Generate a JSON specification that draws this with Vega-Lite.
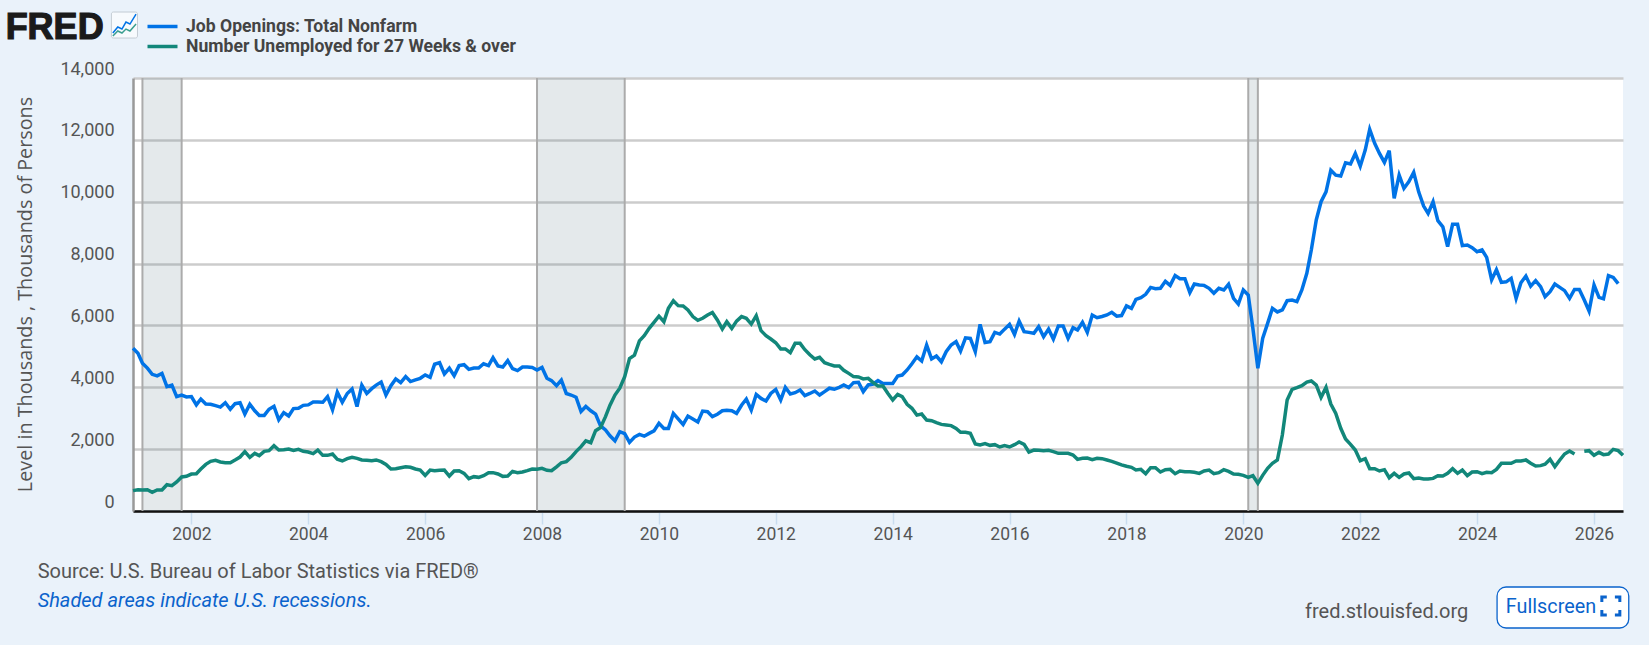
{
  "$schema": "https://vega.github.io/schema/vega-lite/v6.json",
  "background": "#EAF2FA",
  "autosize": {"type": "none"},
  "padding": {"left": 133, "top": 78, "right": 26, "bottom": 134},
  "width": 1490,
  "height": 433,
  "view": {"fill": "#FFFFFF", "stroke": null},
  "datasets": {
    "recessions": [
      {"start": "2001-03-01", "end": "2001-11-01"},
      {"start": "2007-12-01", "end": "2009-06-01"},
      {"start": "2020-02-01", "end": "2020-04-01"}
    ],
    "icon": [
      {"date": "2000-08-28", "openings": 15454, "longterm": 15357},
      {"date": "2000-09-28", "openings": 15648, "longterm": 15519},
      {"date": "2000-10-24", "openings": 15583, "longterm": 15454},
      {"date": "2000-11-18", "openings": 15810, "longterm": 15583},
      {"date": "2000-12-13", "openings": 15745, "longterm": 15519},
      {"date": "2001-01-20", "openings": 16068, "longterm": 15745}
    ],
    "monthly": [
      {"date":"2001-01-01","openings":5260,"longterm":658},{"date":"2001-02-01","openings":5100,"longterm":690},{"date":"2001-03-01","openings":4780,"longterm":680},{"date":"2001-04-01","openings":4620,"longterm":690},{"date":"2001-05-01","openings":4420,"longterm":605},{"date":"2001-06-01","openings":4370,"longterm":680},{"date":"2001-07-01","openings":4450,"longterm":680},{"date":"2001-08-01","openings":4020,"longterm":850},{"date":"2001-09-01","openings":4070,"longterm":820},{"date":"2001-10-01","openings":3700,"longterm":937},{"date":"2001-11-01","openings":3750,"longterm":1100},{"date":"2001-12-01","openings":3690,"longterm":1120},
      {"date":"2002-01-01","openings":3700,"longterm":1195},{"date":"2002-02-01","openings":3430,"longterm":1205},{"date":"2002-03-01","openings":3620,"longterm":1358},{"date":"2002-04-01","openings":3460,"longterm":1508},{"date":"2002-05-01","openings":3450,"longterm":1605},{"date":"2002-06-01","openings":3405,"longterm":1637},{"date":"2002-07-01","openings":3360,"longterm":1585},{"date":"2002-08-01","openings":3500,"longterm":1563},{"date":"2002-09-01","openings":3290,"longterm":1563},{"date":"2002-10-01","openings":3470,"longterm":1650},{"date":"2002-11-01","openings":3500,"longterm":1745},{"date":"2002-12-01","openings":3135,"longterm":1918},
      {"date":"2003-01-01","openings":3450,"longterm":1735},{"date":"2003-02-01","openings":3240,"longterm":1865},{"date":"2003-03-01","openings":3090,"longterm":1790},{"date":"2003-04-01","openings":3090,"longterm":1930},{"date":"2003-05-01","openings":3290,"longterm":1950},{"date":"2003-06-01","openings":3385,"longterm":2112},{"date":"2003-07-01","openings":2950,"longterm":1972},{"date":"2003-08-01","openings":3180,"longterm":1982},{"date":"2003-09-01","openings":3070,"longterm":2005},{"date":"2003-10-01","openings":3310,"longterm":1960},{"date":"2003-11-01","openings":3320,"longterm":1993},{"date":"2003-12-01","openings":3415,"longterm":1930},
      {"date":"2004-01-01","openings":3430,"longterm":1908},{"date":"2004-02-01","openings":3525,"longterm":1855},{"date":"2004-03-01","openings":3525,"longterm":1972},{"date":"2004-04-01","openings":3515,"longterm":1800},{"date":"2004-05-01","openings":3700,"longterm":1800},{"date":"2004-06-01","openings":3270,"longterm":1843},{"date":"2004-07-01","openings":3840,"longterm":1670},{"date":"2004-08-01","openings":3515,"longterm":1617},{"date":"2004-09-01","openings":3800,"longterm":1692},{"date":"2004-10-01","openings":3945,"longterm":1735},{"date":"2004-11-01","openings":3375,"longterm":1703},{"date":"2004-12-01","openings":4070,"longterm":1650},
      {"date":"2005-01-01","openings":3800,"longterm":1638},{"date":"2005-02-01","openings":3955,"longterm":1628},{"date":"2005-03-01","openings":4070,"longterm":1650},{"date":"2005-04-01","openings":4170,"longterm":1595},{"date":"2005-05-01","openings":3750,"longterm":1508},{"date":"2005-06-01","openings":4050,"longterm":1358},{"date":"2005-07-01","openings":4270,"longterm":1368},{"date":"2005-08-01","openings":4150,"longterm":1400},{"date":"2005-09-01","openings":4345,"longterm":1433},{"date":"2005-10-01","openings":4185,"longterm":1412},{"date":"2005-11-01","openings":4240,"longterm":1358},{"date":"2005-12-01","openings":4290,"longterm":1325},
      {"date":"2006-01-01","openings":4400,"longterm":1153},{"date":"2006-02-01","openings":4320,"longterm":1325},{"date":"2006-03-01","openings":4745,"longterm":1303},{"date":"2006-04-01","openings":4795,"longterm":1314},{"date":"2006-05-01","openings":4430,"longterm":1325},{"date":"2006-06-01","openings":4615,"longterm":1131},{"date":"2006-07-01","openings":4375,"longterm":1293},{"date":"2006-08-01","openings":4700,"longterm":1303},{"date":"2006-09-01","openings":4730,"longterm":1217},{"date":"2006-10-01","openings":4580,"longterm":1045},{"date":"2006-11-01","openings":4620,"longterm":1110},{"date":"2006-12-01","openings":4620,"longterm":1088},
      {"date":"2007-01-01","openings":4760,"longterm":1142},{"date":"2007-02-01","openings":4700,"longterm":1239},{"date":"2007-03-01","openings":4955,"longterm":1239},{"date":"2007-04-01","openings":4690,"longterm":1196},{"date":"2007-05-01","openings":4655,"longterm":1120},{"date":"2007-06-01","openings":4860,"longterm":1131},{"date":"2007-07-01","openings":4605,"longterm":1282},{"date":"2007-08-01","openings":4540,"longterm":1239},{"date":"2007-09-01","openings":4655,"longterm":1260},{"date":"2007-10-01","openings":4655,"longterm":1303},{"date":"2007-11-01","openings":4640,"longterm":1358},{"date":"2007-12-01","openings":4560,"longterm":1347},
      {"date":"2008-01-01","openings":4640,"longterm":1380},{"date":"2008-02-01","openings":4290,"longterm":1314},{"date":"2008-03-01","openings":4215,"longterm":1303},{"date":"2008-04-01","openings":4050,"longterm":1430},{"date":"2008-05-01","openings":4230,"longterm":1560},{"date":"2008-06-01","openings":3800,"longterm":1595},{"date":"2008-07-01","openings":3750,"longterm":1735},{"date":"2008-08-01","openings":3680,"longterm":1920},{"date":"2008-09-01","openings":3215,"longterm":2080},{"date":"2008-10-01","openings":3380,"longterm":2270},{"date":"2008-11-01","openings":3240,"longterm":2210},{"date":"2008-12-01","openings":3135,"longterm":2597},
      {"date":"2009-01-01","openings":2750,"longterm":2700},{"date":"2009-02-01","openings":2620,"longterm":3050},{"date":"2009-03-01","openings":2430,"longterm":3420},{"date":"2009-04-01","openings":2270,"longterm":3750},{"date":"2009-05-01","openings":2565,"longterm":3970},{"date":"2009-06-01","openings":2500,"longterm":4345},{"date":"2009-07-01","openings":2220,"longterm":4930},{"date":"2009-08-01","openings":2390,"longterm":5040},{"date":"2009-09-01","openings":2478,"longterm":5500},{"date":"2009-10-01","openings":2420,"longterm":5670},{"date":"2009-11-01","openings":2510,"longterm":5905},{"date":"2009-12-01","openings":2590,"longterm":6100},
      {"date":"2010-01-01","openings":2835,"longterm":6300},{"date":"2010-02-01","openings":2670,"longterm":6120},{"date":"2010-03-01","openings":2670,"longterm":6555},{"date":"2010-04-01","openings":3157,"longterm":6800},{"date":"2010-05-01","openings":2980,"longterm":6640},{"date":"2010-06-01","openings":2800,"longterm":6630},{"date":"2010-07-01","openings":3070,"longterm":6500},{"date":"2010-08-01","openings":2975,"longterm":6285},{"date":"2010-09-01","openings":2880,"longterm":6165},{"date":"2010-10-01","openings":3230,"longterm":6230},{"date":"2010-11-01","openings":3210,"longterm":6335},{"date":"2010-12-01","openings":3050,"longterm":6420},
      {"date":"2011-01-01","openings":3130,"longterm":6175},{"date":"2011-02-01","openings":3240,"longterm":5885},{"date":"2011-03-01","openings":3260,"longterm":6120},{"date":"2011-04-01","openings":3240,"longterm":5905},{"date":"2011-05-01","openings":3157,"longterm":6140},{"date":"2011-06-01","openings":3420,"longterm":6285},{"date":"2011-07-01","openings":3620,"longterm":6230},{"date":"2011-08-01","openings":3265,"longterm":6045},{"date":"2011-09-01","openings":3770,"longterm":6315},{"date":"2011-10-01","openings":3640,"longterm":5830},{"date":"2011-11-01","openings":3555,"longterm":5670},{"date":"2011-12-01","openings":3800,"longterm":5560},
      {"date":"2012-01-01","openings":3930,"longterm":5440},{"date":"2012-02-01","openings":3590,"longterm":5240},{"date":"2012-03-01","openings":3998,"longterm":5240},{"date":"2012-04-01","openings":3785,"longterm":5120},{"date":"2012-05-01","openings":3825,"longterm":5420},{"date":"2012-06-01","openings":3910,"longterm":5420},{"date":"2012-07-01","openings":3730,"longterm":5215},{"date":"2012-08-01","openings":3800,"longterm":5050},{"date":"2012-09-01","openings":3880,"longterm":4915},{"date":"2012-10-01","openings":3750,"longterm":4970},{"date":"2012-11-01","openings":3860,"longterm":4795},{"date":"2012-12-01","openings":3970,"longterm":4740},
      {"date":"2013-01-01","openings":3935,"longterm":4690},{"date":"2013-02-01","openings":4000,"longterm":4690},{"date":"2013-03-01","openings":4075,"longterm":4550},{"date":"2013-04-01","openings":3990,"longterm":4450},{"date":"2013-05-01","openings":4150,"longterm":4345},{"date":"2013-06-01","openings":4160,"longterm":4335},{"date":"2013-07-01","openings":3860,"longterm":4270},{"date":"2013-08-01","openings":4075,"longterm":4290},{"date":"2013-09-01","openings":4105,"longterm":4150},{"date":"2013-10-01","openings":4215,"longterm":4040},{"date":"2013-11-01","openings":4125,"longterm":4040},{"date":"2013-12-01","openings":4125,"longterm":3805},
      {"date":"2014-01-01","openings":4125,"longterm":3590},{"date":"2014-02-01","openings":4365,"longterm":3770},{"date":"2014-03-01","openings":4395,"longterm":3700},{"date":"2014-04-01","openings":4560,"longterm":3450},{"date":"2014-05-01","openings":4760,"longterm":3320},{"date":"2014-06-01","openings":4985,"longterm":3100},{"date":"2014-07-01","openings":4850,"longterm":3135},{"date":"2014-08-01","openings":5365,"longterm":2940},{"date":"2014-09-01","openings":4915,"longterm":2920},{"date":"2014-10-01","openings":5010,"longterm":2855},{"date":"2014-11-01","openings":4825,"longterm":2800},{"date":"2014-12-01","openings":5150,"longterm":2780},
      {"date":"2015-01-01","openings":5365,"longterm":2760},{"date":"2015-02-01","openings":5475,"longterm":2672},{"date":"2015-03-01","openings":5170,"longterm":2543},{"date":"2015-04-01","openings":5600,"longterm":2543},{"date":"2015-05-01","openings":5580,"longterm":2510},{"date":"2015-06-01","openings":5150,"longterm":2166},{"date":"2015-07-01","openings":6035,"longterm":2134},{"date":"2015-08-01","openings":5450,"longterm":2177},{"date":"2015-09-01","openings":5475,"longterm":2123},{"date":"2015-10-01","openings":5775,"longterm":2145},{"date":"2015-11-01","openings":5720,"longterm":2069},{"date":"2015-12-01","openings":5880,"longterm":2112},
      {"date":"2016-01-01","openings":6035,"longterm":2069},{"date":"2016-02-01","openings":5710,"longterm":2145},{"date":"2016-03-01","openings":6140,"longterm":2230},{"date":"2016-04-01","openings":5800,"longterm":2155},{"date":"2016-05-01","openings":5775,"longterm":1907},{"date":"2016-06-01","openings":5745,"longterm":1972},{"date":"2016-07-01","openings":5960,"longterm":1961},{"date":"2016-08-01","openings":5635,"longterm":1950},{"date":"2016-09-01","openings":5880,"longterm":1961},{"date":"2016-10-01","openings":5560,"longterm":1918},{"date":"2016-11-01","openings":5980,"longterm":1864},{"date":"2016-12-01","openings":5980,"longterm":1864},
      {"date":"2017-01-01","openings":5580,"longterm":1864},{"date":"2017-02-01","openings":5925,"longterm":1810},{"date":"2017-03-01","openings":5850,"longterm":1670},{"date":"2017-04-01","openings":6100,"longterm":1703},{"date":"2017-05-01","openings":5775,"longterm":1713},{"date":"2017-06-01","openings":6335,"longterm":1660},{"date":"2017-07-01","openings":6250,"longterm":1703},{"date":"2017-08-01","openings":6290,"longterm":1692},{"date":"2017-09-01","openings":6340,"longterm":1650},{"date":"2017-10-01","openings":6425,"longterm":1605},{"date":"2017-11-01","openings":6300,"longterm":1550},{"date":"2017-12-01","openings":6320,"longterm":1490},
      {"date":"2018-01-01","openings":6630,"longterm":1445},{"date":"2018-02-01","openings":6550,"longterm":1412},{"date":"2018-03-01","openings":6840,"longterm":1325},{"date":"2018-04-01","openings":6900,"longterm":1347},{"date":"2018-05-01","openings":7005,"longterm":1206},{"date":"2018-06-01","openings":7230,"longterm":1401},{"date":"2018-07-01","openings":7190,"longterm":1401},{"date":"2018-08-01","openings":7200,"longterm":1260},{"date":"2018-09-01","openings":7425,"longterm":1336},{"date":"2018-10-01","openings":7295,"longterm":1347},{"date":"2018-11-01","openings":7615,"longterm":1206},{"date":"2018-12-01","openings":7510,"longterm":1293},
      {"date":"2019-01-01","openings":7510,"longterm":1272},{"date":"2019-02-01","openings":7060,"longterm":1272},{"date":"2019-03-01","openings":7340,"longterm":1250},{"date":"2019-04-01","openings":7305,"longterm":1217},{"date":"2019-05-01","openings":7295,"longterm":1293},{"date":"2019-06-01","openings":7200,"longterm":1325},{"date":"2019-07-01","openings":7040,"longterm":1206},{"date":"2019-08-01","openings":7200,"longterm":1239},{"date":"2019-09-01","openings":7145,"longterm":1336},{"date":"2019-10-01","openings":7330,"longterm":1282},{"date":"2019-11-01","openings":6875,"longterm":1196},{"date":"2019-12-01","openings":6690,"longterm":1185},
      {"date":"2020-01-01","openings":7145,"longterm":1153},{"date":"2020-02-01","openings":6980,"longterm":1088},{"date":"2020-03-01","openings":5900,"longterm":1142},{"date":"2020-04-01","openings":4613,"longterm":895},{"date":"2020-05-01","openings":5580,"longterm":1153},{"date":"2020-06-01","openings":6067,"longterm":1380},{"date":"2020-07-01","openings":6553,"longterm":1542},{"date":"2020-08-01","openings":6435,"longterm":1650},{"date":"2020-09-01","openings":6500,"longterm":2457},{"date":"2020-10-01","openings":6800,"longterm":3589},{"date":"2020-11-01","openings":6820,"longterm":3933},{"date":"2020-12-01","openings":6770,"longterm":3987},
      {"date":"2021-01-01","openings":7145,"longterm":4051},{"date":"2021-02-01","openings":7685,"longterm":4170},{"date":"2021-03-01","openings":8440,"longterm":4203},{"date":"2021-04-01","openings":9410,"longterm":4073},{"date":"2021-05-01","openings":10000,"longterm":3675},{"date":"2021-06-01","openings":10320,"longterm":3997},{"date":"2021-07-01","openings":11020,"longterm":3460},{"date":"2021-08-01","openings":10860,"longterm":3157},{"date":"2021-09-01","openings":10830,"longterm":2673},{"date":"2021-10-01","openings":11260,"longterm":2327},{"date":"2021-11-01","openings":11220,"longterm":2155},{"date":"2021-12-01","openings":11560,"longterm":1972},
      {"date":"2022-01-01","openings":11150,"longterm":1628},{"date":"2022-02-01","openings":11670,"longterm":1692},{"date":"2022-03-01","openings":12340,"longterm":1369},{"date":"2022-04-01","openings":11890,"longterm":1369},{"date":"2022-05-01","openings":11560,"longterm":1293},{"date":"2022-06-01","openings":11270,"longterm":1336},{"date":"2022-07-01","openings":11650,"longterm":1077},{"date":"2022-08-01","openings":10110,"longterm":1217},{"date":"2022-09-01","openings":10860,"longterm":1088},{"date":"2022-10-01","openings":10430,"longterm":1196},{"date":"2022-11-01","openings":10650,"longterm":1228},{"date":"2022-12-01","openings":10950,"longterm":1045},
      {"date":"2023-01-01","openings":10320,"longterm":1066},{"date":"2023-02-01","openings":9860,"longterm":1034},{"date":"2023-03-01","openings":9620,"longterm":1034},{"date":"2023-04-01","openings":10000,"longterm":1055},{"date":"2023-05-01","openings":9385,"longterm":1142},{"date":"2023-06-01","openings":9190,"longterm":1131},{"date":"2023-07-01","openings":8545,"longterm":1217},{"date":"2023-08-01","openings":9270,"longterm":1369},{"date":"2023-09-01","openings":9270,"longterm":1217},{"date":"2023-10-01","openings":8580,"longterm":1325},{"date":"2023-11-01","openings":8600,"longterm":1142},{"date":"2023-12-01","openings":8515,"longterm":1260},
      {"date":"2024-01-01","openings":8385,"longterm":1272},{"date":"2024-02-01","openings":8440,"longterm":1206},{"date":"2024-03-01","openings":8200,"longterm":1250},{"date":"2024-04-01","openings":7470,"longterm":1239},{"date":"2024-05-01","openings":7800,"longterm":1347},{"date":"2024-06-01","openings":7390,"longterm":1542},{"date":"2024-07-01","openings":7410,"longterm":1542},{"date":"2024-08-01","openings":7520,"longterm":1542},{"date":"2024-09-01","openings":6875,"longterm":1617},{"date":"2024-10-01","openings":7380,"longterm":1617},{"date":"2024-11-01","openings":7595,"longterm":1650},{"date":"2024-12-01","openings":7270,"longterm":1542},
      {"date":"2025-01-01","openings":7450,"longterm":1456},{"date":"2025-02-01","openings":7255,"longterm":1467},{"date":"2025-03-01","openings":6930,"longterm":1510},{"date":"2025-04-01","openings":7090,"longterm":1670},{"date":"2025-05-01","openings":7340,"longterm":1433},{"date":"2025-06-01","openings":7230,"longterm":1650},{"date":"2025-07-01","openings":7125,"longterm":1843},{"date":"2025-08-01","openings":6875,"longterm":1940},{"date":"2025-09-01","openings":7165,"longterm":1843},{"date":"2025-10-01","openings":7165,"longterm":null},{"date":"2025-11-01","openings":6820,"longterm":1929},{"date":"2025-12-01","openings":6465,"longterm":1951},
      {"date":"2026-01-01","openings":7305,"longterm":1800},{"date":"2026-02-01","openings":6905,"longterm":1897},{"date":"2026-03-01","openings":6860,"longterm":1822},{"date":"2026-04-01","openings":7610,"longterm":1843},{"date":"2026-05-01","openings":7550,"longterm":1994},{"date":"2026-06-01","openings":7350,"longterm":1951},{"date":"2026-07-01","openings":null,"longterm":1800}
    ]
  },
  "data": {"name": "monthly"},
  "encoding": {
    "x": {
      "field": "date",
      "type": "temporal",
      "scale": {"domain": ["2001-01-01", "2026-07-01"]},
      "axis": {
        "title": null,
        "format": "%Y",
        "tickCount": {"interval": "year", "step": 2},
        "grid": false,
        "domainColor": "#111111",
        "domainWidth": 2.5,
        "tickColor": "#C9DCEF",
        "tickWidth": 1.5,
        "tickSize": 13,
        "labelFont": "Roboto",
        "labelFontSize": 17.5,
        "labelColor": "#555555",
        "labelPadding": 1,
        "labelFlush": false
      }
    }
  },
  "layer": [
    {
      "data": {"name": "recessions"},
      "mark": {"type": "rect", "fill": "#6F8A96", "opacity": 0.19},
      "encoding": {
        "x": {"field": "start", "type": "temporal"},
        "x2": {"field": "end"}
      }
    },
    {
      "data": {"name": "recessions"},
      "mark": {"type": "rule", "color": "#ABABAB", "strokeWidth": 2},
      "encoding": {"x": {"field": "start", "type": "temporal"}}
    },
    {
      "data": {"name": "recessions"},
      "mark": {"type": "rule", "color": "#ABABAB", "strokeWidth": 2},
      "encoding": {"x": {"field": "end", "type": "temporal"}}
    },
    {
      "mark": {"type": "line", "strokeWidth": 3.5, "interpolate": "linear"},
      "encoding": {
        "y": {
          "field": "openings",
          "type": "quantitative",
          "scale": {"domain": [0, 14000]},
          "axis": {
            "title": "Level in Thousands , Thousands of Persons",
            "titleFont": "Open Sans",
            "titleFontSize": 19.8,
            "titleFontWeight": "normal",
            "titleColor": "#555555",
            "titleX": -98,
            "titleY": 216,
            "values": [0, 2000, 4000, 6000, 8000, 10000, 12000, 14000],
            "format": ",d",
            "grid": true,
            "gridColor": "#CCCCCC",
            "gridWidth": 2.5,
            "domainColor": "#999999",
            "domainWidth": 2.5,
            "ticks": false,
            "labelFont": "Roboto",
            "labelFontSize": 18,
            "labelColor": "#555555",
            "labelPadding": 19,
            "labelOffset": -9,
            "labelBaseline": "middle"
          }
        },
        "color": {
          "datum": "Job Openings: Total Nonfarm",
          "type": "nominal",
          "scale": {
            "domain": ["Job Openings: Total Nonfarm", "Number Unemployed for 27 Weeks & over"],
            "range": ["#0073E6", "#12877A"]
          },
          "legend": {
            "orient": "none",
            "legendX": 20,
            "legendY": -61,
            "title": null,
            "symbolType": "M-2,0H2",
            "symbolStrokeWidth": 3.5,
            "symbolSize": 225,
            "labelFont": "Roboto",
            "labelFontSize": 17.6,
            "labelFontWeight": "bold",
            "labelColor": "#444444",
            "labelLimit": 500,
            "labelOffset": 14,
            "rowPadding": 1
          }
        }
      }
    },
    {
      "mark": {"type": "line", "strokeWidth": 3.5, "interpolate": "linear"},
      "encoding": {
        "y": {"field": "longterm", "type": "quantitative"},
        "color": {"datum": "Number Unemployed for 27 Weeks & over", "type": "nominal"}
      }
    },
    {
      "transform": [{"filter": {"field": "longterm", "equal": 658}}],
      "mark": {"type": "text", "text": "FRED", "font": "Liberation Sans", "fontWeight": "bold", "fontSize": 36, "align": "left", "baseline": "alphabetic", "color": "#1A1A1A", "stroke": "#1A1A1A", "strokeWidth": 1.2},
      "encoding": {
        "x": {"datum": {"year": 1998, "month": 10, "date": 28}, "type": "temporal"},
        "y": {"datum": 15260, "type": "quantitative"}
      }
    },
    {
      "transform": [{"filter": {"field": "longterm", "equal": 658}}],
      "mark": {"type": "rect", "fill": "#F7FAFD", "stroke": "#C4CCD4", "strokeWidth": 1, "cornerRadius": 2},
      "encoding": {
        "x": {"datum": {"year": 2000, "month": 8, "date": 19}, "type": "temporal"},
        "x2": {"datum": {"year": 2001, "month": 1, "date": 29}},
        "y": {"datum": 16133, "type": "quantitative"},
        "y2": {"datum": 15292}
      }
    },
    {
      "data": {"name": "icon"},
      "mark": {"type": "line", "color": "#0073E6", "strokeWidth": 1.5},
      "encoding": {
        "x": {"field": "date", "type": "temporal"},
        "y": {"field": "openings", "type": "quantitative"}
      }
    },
    {
      "data": {"name": "icon"},
      "mark": {"type": "line", "color": "#3A9E90", "strokeWidth": 1.5},
      "encoding": {
        "x": {"field": "date", "type": "temporal"},
        "y": {"field": "longterm", "type": "quantitative"}
      }
    },
    {
      "transform": [{"filter": {"field": "longterm", "equal": 658}}],
      "mark": {"type": "text", "text": "Source: U.S. Bureau of Labor Statistics via FRED®", "font": "Roboto", "fontSize": 20, "align": "left", "baseline": "alphabetic", "color": "#555555"},
      "encoding": {
        "x": {"datum": {"year": 1999, "month": 5, "date": 16}, "type": "temporal"},
        "y": {"datum": -2166, "type": "quantitative"}
      }
    },
    {
      "transform": [{"filter": {"field": "longterm", "equal": 658}}],
      "mark": {"type": "text", "text": "Shaded areas indicate U.S. recessions.", "font": "Roboto", "fontSize": 20, "fontStyle": "italic", "align": "left", "baseline": "alphabetic", "color": "#0A63CC"},
      "encoding": {
        "x": {"datum": {"year": 1999, "month": 5, "date": 16}, "type": "temporal"},
        "y": {"datum": -3104, "type": "quantitative"}
      }
    },
    {
      "transform": [{"filter": {"field": "longterm", "equal": 658}}],
      "mark": {"type": "text", "text": "fred.stlouisfed.org", "font": "Roboto", "fontSize": 20, "align": "left", "baseline": "alphabetic", "color": "#555555"},
      "encoding": {
        "x": {"datum": {"year": 2021, "month": 1, "date": 21}, "type": "temporal"},
        "y": {"datum": -3459, "type": "quantitative"}
      }
    },
    {
      "transform": [{"filter": {"field": "longterm", "equal": 658}}],
      "mark": {"type": "rect", "fill": "#FFFFFF", "stroke": "#0A63CC", "strokeWidth": 1.3, "cornerRadius": 9},
      "encoding": {
        "x": {"datum": {"year": 2024, "month": 5, "date": 5}, "type": "temporal"},
        "x2": {"datum": {"year": 2026, "month": 8, "date": 6}},
        "y": {"datum": -2457, "type": "quantitative"},
        "y2": {"datum": -3783}
      }
    },
    {
      "transform": [{"filter": {"field": "longterm", "equal": 658}}],
      "mark": {"type": "text", "text": "Fullscreen", "font": "Roboto", "fontSize": 19.8, "align": "left", "baseline": "alphabetic", "color": "#0A63CC"},
      "encoding": {
        "x": {"datum": {"year": 2024, "month": 6, "date": 29}, "type": "temporal"},
        "y": {"datum": -3298, "type": "quantitative"}
      }
    },
    {
      "transform": [{"filter": {"field": "longterm", "equal": 658}}],
      "mark": {
        "type": "point",
        "shape": "M-1,-0.45V-1H-0.45M0.45,-1H1V-0.45M1,0.45V1H0.45M-0.45,1H-1V0.45",
        "size": 324,
        "filled": false,
        "stroke": "#0A63CC",
        "strokeWidth": 3,
        "opacity": 1
      },
      "encoding": {
        "x": {"datum": {"year": 2026, "month": 4, "date": 16}, "type": "temporal"},
        "y": {"datum": -3071, "type": "quantitative"}
      }
    }
  ]
}
